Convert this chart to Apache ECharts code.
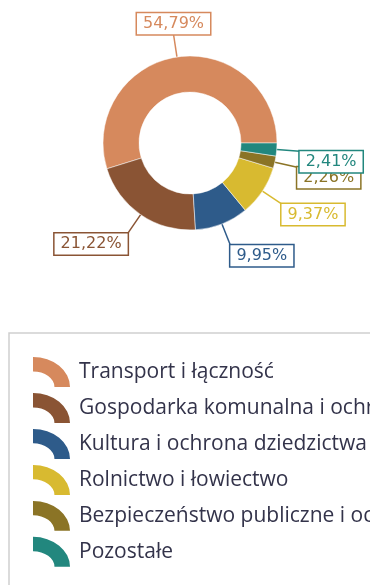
<!DOCTYPE html>
<html>
<head>
<meta charset="utf-8">
<style>
  html, body { margin: 0; padding: 0; background: #fff; }
  #chart { width: 370px; height: 585px; }
</style>
<script src="https://cdn.jsdelivr.net/npm/echarts@6/dist/echarts.min.js"></script>
</head>
<body>
<div id="chart"></div>
<script>
// Budget expenditure shares by section (percent)
const categories = [
  'Transport i łączność',
  'Gospodarka komunalna i ochrona środowiska',
  'Kultura i ochrona dziedzictwa narodowego',
  'Rolnictwo i łowiectwo',
  'Bezpieczeństwo publiczne i ochrona przeciwpożarowa',
  'Pozostałe'
];
const shares = [54.79, 21.22, 9.95, 9.37, 2.26, 2.41];
const colors = ['#D6895D', '#8A5434', '#2E5B8A', '#D8BA30', '#8B7426', '#22877E'];

// Arc-shaped legend marker (a quarter of an elliptical ring, 37x30 proportions)
const arcIcon = 'path://M0,0 A100,81 0 0 1 100,81 L58,81 A58,42 0 0 0 0,39 Z';

function fmtPercent(v) {
  return v.toFixed(2).replace('.', ',') + '%';
}

const pieData = categories.map(function (name, i) {
  return {
    name: name,
    value: shares[i],
    itemStyle: { color: colors[i] },
    label: { color: colors[i], borderColor: colors[i] },
    labelLine: { lineStyle: { color: colors[i] } }
  };
});

const chart = echarts.init(document.getElementById('chart'), null, { renderer: 'canvas' });

chart.setOption({
  animation: false,
  color: colors,
  legend: {
    orient: 'vertical',
    left: 9,
    top: 333,
    height: 320,
    padding: [24, 24, 24, 24],
    borderColor: '#cfcfcf',
    borderWidth: 1.5,
    itemWidth: 37,
    itemHeight: 30,
    itemGap: 6,
    icon: arcIcon,
    itemStyle: { borderWidth: 0 },
    textStyle: {
      fontFamily: '"Open Sans", sans-serif',
      fontSize: 21,
      lineHeight: 26,
      color: '#33334a',
      padding: [0, 0, 0, 4]
    },
    data: categories
  },
  series: [{
    type: 'pie',
    center: [190, 143],
    radius: [51, 87],
    startAngle: 0,
    clockwise: false,
    avoidLabelOverlap: false,
    itemStyle: { borderColor: '#ffffff', borderWidth: 0.5 },
    label: {
      show: true,
      position: 'outside',
      formatter: function (p) { return fmtPercent(p.value); },
      fontFamily: '"DejaVu Sans", sans-serif',
      fontSize: 16,
      lineHeight: 15,
      backgroundColor: '#ffffff',
      borderWidth: 1.5,
      padding: [3, 6],
      distanceToLabelLine: 0
    },
    labelLine: {
      show: true,
      length: 23,
      length2: 0,
      lineStyle: { width: 1.5 }
    },
    // Hang each label box off the end of its leader line
    labelLayout: function (p) {
      const pts = p.labelLinePoints;
      if (!pts) { return {}; }
      const dx = pts[1][0] - pts[0][0];
      const dy = pts[1][1] - pts[0][1];
      const len = Math.sqrt(dx * dx + dy * dy) || 1;
      const nx = dx / len, ny = dy / len;
      if (Math.abs(nx) < 0.3) {
        return { align: 'center', verticalAlign: ny < 0 ? 'bottom' : 'top' };
      }
      return { align: nx > 0 ? 'left' : 'right', verticalAlign: ny < 0 ? 'bottom' : 'top' };
    },
    emphasis: { disabled: true },
    data: pieData
  }]
});
</script>
</body>
</html>
